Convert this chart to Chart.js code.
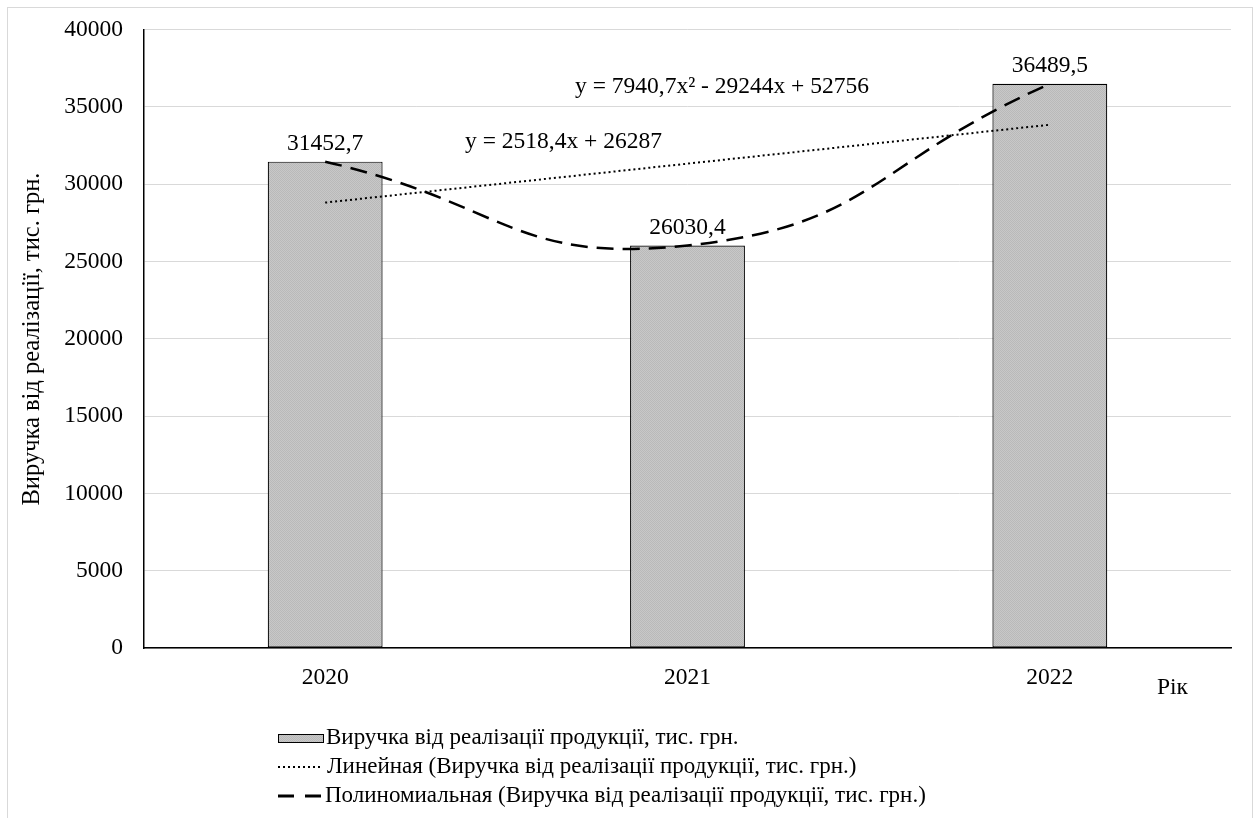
<!DOCTYPE html>
<html>
<head>
<meta charset="utf-8">
<script src="https://cdn.jsdelivr.net/npm/chart.js@4"></script>
<style>
  html, body { margin: 0; padding: 0; background: #fff; }
  #wrap { width: 1259px; height: 818px; position: relative; }
</style>
</head>
<body>
<div id="wrap"><canvas id="grafico"></canvas></div>
<script>
// Дані
const roky = ["2020", "2021", "2022"];
const vyruchka = [31452.7, 26030.4, 36489.5];
const vyruchkaLabels = ["31452,7", "26030,4", "36489,5"];
const liniinyi = [28805, 31324, 33842];
const polinom = [31452.7, 26030.8, 36490.3];
const yTicks = [0, 5000, 10000, 15000, 20000, 25000, 30000, 35000, 40000];

const seriesName = "Виручка від реалізації продукції, тис. грн.";
const linName = "Линейная (Виручка від реалізації продукції, тис. грн.)";
const polyName = "Полиномиальная (Виручка від реалізації продукції, тис. грн.)";
const yTitle = "Виручка від реалізації, тис. грн.";
const xTitle = "Рік";
const eqPoly = "y = 7940,7x² - 29244x + 52756";
const eqLin = "y = 2518,4x + 26287";

const FONT = "'Liberation Serif', 'Times New Roman', serif";

// заливка стовпців (дрібний візерунок)
function makePattern() {
  const c = document.createElement("canvas");
  c.width = 2; c.height = 2;
  const g = c.getContext("2d");
  g.fillStyle = "#c8c8c8"; g.fillRect(0, 0, 2, 2);
  g.fillStyle = "#b9b9b9"; g.fillRect(0, 0, 1, 1); g.fillRect(1, 1, 1, 1);
  return g.createPattern(c, "repeat");
}
const pattern = makePattern();

/*******************************************************************************/
// Підписи, рамка, легенда

const extras = {
  id: "extras",
  beforeDraw(chart) {
    const ctx = chart.ctx;
    ctx.save();
    ctx.fillStyle = "#fff";
    ctx.fillRect(0, 0, chart.width, chart.height);
    ctx.strokeStyle = "#d9d9d9";
    ctx.lineWidth = 1;
    ctx.strokeRect(7.5, 7.5, 1245, 900);
    ctx.restore();
  },
  afterDraw(chart) {
    const ctx = chart.ctx;
    const x = chart.scales.x, y = chart.scales.y;
    ctx.save();
    ctx.fillStyle = "#000";
    ctx.font = "23.5px " + FONT;
    ctx.textAlign = "center";
    ctx.textBaseline = "alphabetic";

    // значення над стовпцями
    vyruchka.forEach((v, i) => {
      ctx.fillText(vyruchkaLabels[i], x.getPixelForValue(i), y.getPixelForValue(v) - 12);
    });

    // рівняння трендів
    ctx.textAlign = "left";
    ctx.fillText(eqPoly, 575, 93);
    ctx.fillText(eqLin, 465, 148);

    // назва осі X
    ctx.fillText(xTitle, 1157, 694);

    // назва осі Y
    ctx.save();
    ctx.translate(39, 339);
    ctx.rotate(-Math.PI / 2);
    ctx.textAlign = "center";
    ctx.font = "24.5px " + FONT;
    ctx.fillText(yTitle, 0, 0);
    ctx.restore();

    // легенда
    ctx.font = "23px " + FONT;
    ctx.textAlign = "left";
    ctx.textBaseline = "middle";
    ctx.fillStyle = pattern;
    ctx.fillRect(278.5, 734.5, 45, 8);
    ctx.strokeStyle = "#000";
    ctx.lineWidth = 1;
    ctx.strokeRect(278.5, 734.5, 45, 8);

    ctx.lineWidth = 2;
    ctx.setLineDash([2, 3]);
    ctx.beginPath(); ctx.moveTo(278, 767); ctx.lineTo(321, 767); ctx.stroke();
    ctx.lineWidth = 3;
    ctx.setLineDash([16, 11]);
    ctx.beginPath(); ctx.moveTo(278, 796); ctx.lineTo(323, 796); ctx.stroke();
    ctx.setLineDash([]);

    ctx.fillStyle = "#000";
    ctx.fillText(seriesName, 326, 738);
    ctx.fillText(linName, 327, 767);
    ctx.fillText(polyName, 325, 796);
    ctx.restore();
  }
};

/*******************************************************************************/
// Графік

const ctx = document.getElementById("grafico").getContext("2d");
new Chart(ctx, {
  data: {
    labels: roky,
    datasets: [
      {
        type: "line",
        label: polyName,
        data: polinom,
        borderColor: "#000",
        borderWidth: 2.5,
        borderDash: [17, 9],
        tension: 0.5,
        pointRadius: 0,
        fill: false,
        order: 0
      },
      {
        type: "line",
        label: linName,
        data: liniinyi,
        borderColor: "#000",
        borderWidth: 2,
        borderDash: [2, 3],
        tension: 0,
        pointRadius: 0,
        fill: false,
        order: 1
      },
      {
        type: "bar",
        label: seriesName,
        data: vyruchka,
        backgroundColor: pattern,
        borderColor: "#000",
        borderWidth: 1.2,
        borderSkipped: false,
        categoryPercentage: 1,
        barPercentage: 0.317,
        order: 2
      }
    ]
  },
  options: {
    responsive: true,
    maintainAspectRatio: false,
    animation: false,
    layout: { autoPadding: false, padding: { top: 29.5, right: 28, left: 0, bottom: 0 } },
    plugins: {
      legend: { display: false },
      tooltip: { enabled: false }
    },
    scales: {
      x: {
        grid: { display: false, drawTicks: false },
        border: { display: true, color: "#000", width: 1.5 },
        ticks: { color: "#000", font: { family: FONT, size: 23.5 }, padding: 16 },
        afterFit: (s) => { s.height = 818 - 648; s.paddingLeft = 0; s.paddingRight = 0; }
      },
      y: {
        min: 0,
        max: 40000,
        afterBuildTicks: (s) => { s.ticks = yTicks.map((v) => ({ value: v })); },
        grid: { color: "#d9d9d9", lineWidth: 1, drawTicks: false },
        border: { display: true, color: "#000", width: 1.5 },
        ticks: {
          color: "#000",
          font: { family: FONT, size: 23.5 },
          padding: 21,
          callback: (v) => String(v)
        },
        afterFit: (s) => { s.width = 144; s.paddingTop = 0; s.paddingBottom = 0; }
      }
    }
  },
  plugins: [extras]
});
</script>
</body>
</html>
